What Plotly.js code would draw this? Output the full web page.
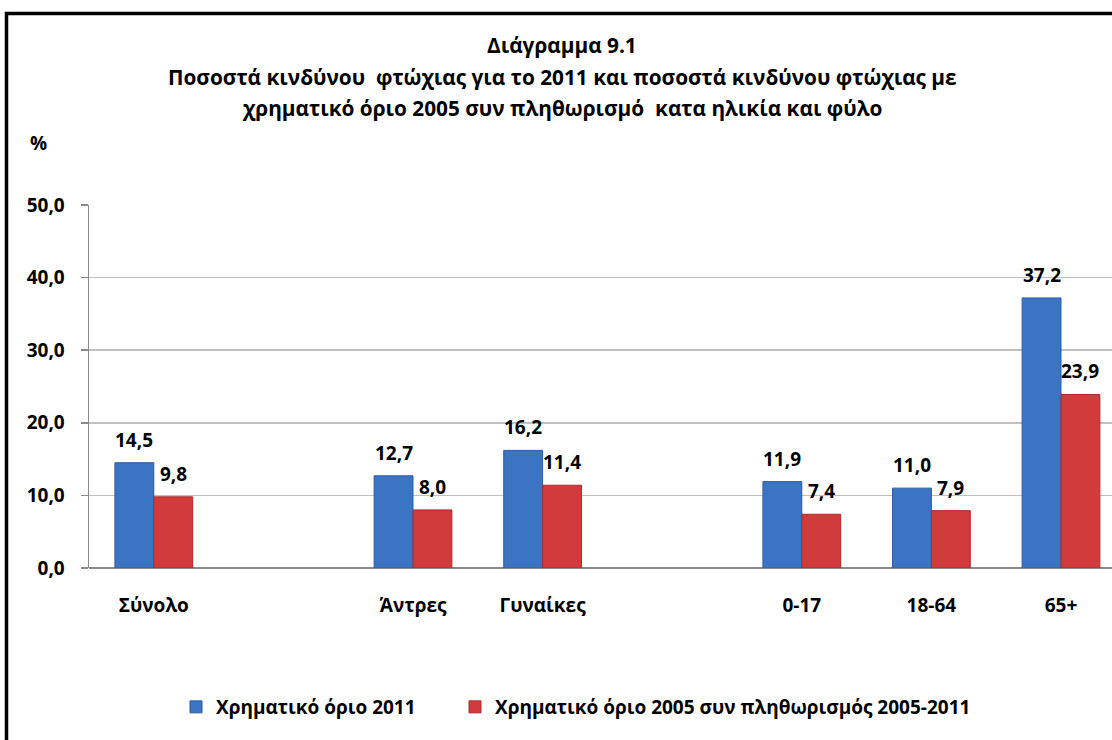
<!DOCTYPE html>
<html>
<head>
<meta charset="utf-8">
<script src="https://cdn.plot.ly/plotly-3.0.1.min.js"></script>
<style>html,body{margin:0;padding:0;background:#fff;}#chart{width:1112px;height:740px;}</style>
</head>
<body>
<div id="chart"></div>
<script>
// ---- data ----
const categories = ['Σύνολο', '', 'Άντρες', 'Γυναίκες', '', '0-17', '18-64', '65+'];
const limit2011 = [14.5, null, 12.7, 16.2, null, 11.9, 11.0, 37.2];
const limit2005 = [9.8, null, 8.0, 11.4, null, 7.4, 7.9, 23.9];
const seriesNames = ['Χρηματικό όριο 2011', 'Χρηματικό όριο 2005 συν πληθωρισμός 2005-2011'];
const titleLines = ['Διάγραμμα 9.1',
  'Ποσοστά κινδύνου  φτώχιας για το 2011 και ποσοστά κινδύνου φτώχιας με',
  'χρηματικό όριο 2005 συν πληθωρισμό  κατα ηλικία και φύλο'];
const yTicks = [0, 10, 20, 30, 40, 50];

// ---- layout helpers ----
const W = 1112, H = 740;
const M = {l: 89, r: 0, t: 205, b: 172};
const pw = W - M.l - M.r, ph = H - M.t - M.b;
const px = p => (p - M.l) / pw;
const py = p => (H - M.b - p) / ph;
const FONT = 'Open Sans, Noto Sans, sans-serif';
const fmt = v => v.toFixed(1).replace('.', ',');

const xs = categories.map((c, i) => i);
const tickvals = xs.filter(i => categories[i] !== '');
const ticktext = tickvals.map(i => categories[i]);

const blue = '#3b74c2', red = '#d13b3b';

const traces = [
  {type: 'bar', x: xs, y: limit2011, name: seriesNames[0], legend: 'legend',
   marker: {color: blue, line: {color: '#2c5ca3', width: 1}}, hoverinfo: 'y'},
  {type: 'bar', x: xs, y: limit2005, name: seriesNames[1], legend: 'legend2',
   marker: {color: red, line: {color: '#a92b2b', width: 1}}, hoverinfo: 'y'}
];

const annotations = [];
const half = 0.15;
[limit2011, limit2005].forEach((arr, s) => {
  arr.forEach((v, i) => {
    if (v === null) return;
    annotations.push({x: i + (s === 0 ? -half : half), y: v, xref: 'x', yref: 'y',
      text: fmt(v), showarrow: false, yanchor: 'middle', yshift: 23,
      font: {family: FONT, size: 19, color: '#000', weight: 'bold'}});
  });
});
const titleY = [45, 77, 108];
titleLines.forEach((t, k) => annotations.push({
  x: px(562), y: py(titleY[k]), xref: 'paper', yref: 'paper', text: t,
  showarrow: false, xanchor: 'center', yanchor: 'middle',
  font: {family: FONT, size: 20.8, color: '#000', weight: 'bold'}}));
annotations.push({x: px(38), y: py(143), xref: 'paper', yref: 'paper', text: '%',
  showarrow: false, xanchor: 'center', yanchor: 'middle',
  font: {family: FONT, size: 19, color: '#000', weight: 'bold'}});

const legendFont = {family: FONT, size: 19, color: '#000', weight: 'bold'};
const layout = {
  width: W, height: H, margin: M,
  paper_bgcolor: '#fff', plot_bgcolor: '#fff',
  separators: ',.',
  barmode: 'group', bargap: 0.4, bargroupgap: 0,
  showlegend: true,
  legend: {orientation: 'h', x: px(176), xanchor: 'left', y: py(707), yanchor: 'middle',
    font: legendFont},
  legend2: {orientation: 'h', x: px(455), xanchor: 'left', y: py(707), yanchor: 'middle',
    font: legendFont},
  xaxis: {range: [-0.5, -0.5 + pw / 129.6], tickvals: tickvals, ticktext: ticktext,
    showgrid: false, zeroline: false, showline: false, ticks: '',
    ticklabelstandoff: 24,
    tickfont: {family: FONT, size: 19, color: '#000', weight: 'bold'}, fixedrange: true},
  yaxis: {range: [0, 50], tickvals: yTicks, tickformat: '.1f',
    showgrid: true, gridcolor: '#c0c0c0', gridwidth: 1.5,
    zeroline: true, zerolinecolor: '#8a8a8a', zerolinewidth: 2,
    showline: true, linecolor: '#8a8a8a', linewidth: 1.5,
    ticks: 'outside', ticklen: 7, tickcolor: '#8a8a8a', tickwidth: 1.5,
    ticklabelstandoff: 12,
    tickfont: {family: FONT, size: 19, color: '#000', weight: 'bold'}, fixedrange: true},
  annotations: annotations,
  shapes: [{type: 'rect', xref: 'paper', yref: 'paper',
    x0: px(6.5), x1: px(W + 20), y0: py(H + 20), y1: py(13.5),
    line: {color: '#000', width: 3.5}, fillcolor: 'rgba(0,0,0,0)', layer: 'above'}]
};

Plotly.newPlot('chart', traces, layout, {displayModeBar: false, staticPlot: true});
</script>
</body>
</html>
